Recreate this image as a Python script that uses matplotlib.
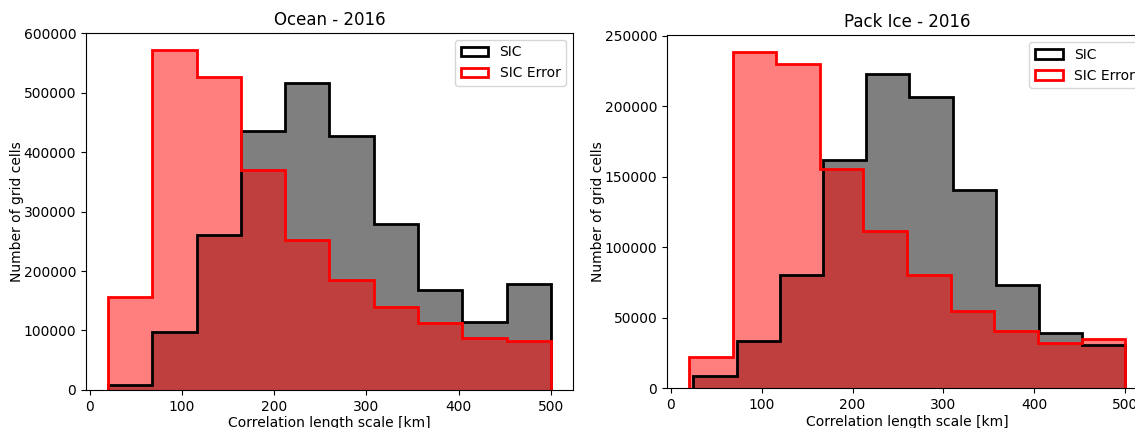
import matplotlib
matplotlib.use("Agg")
import matplotlib.pyplot as plt
import numpy as np

# bin edges [km]
ocean_edges = np.linspace(20, 500, 11)
ocean_sic_edges = np.linspace(20, 500, 11)
pack_edges = np.linspace(20, 500, 11)
pack_sic_edges = np.linspace(25, 500, 11)

# counts per bin
ocean_sic = [8000, 97000, 260000, 435000, 517000, 427000, 279000, 168000, 115000, 178000]
ocean_err = [157000, 572000, 526000, 370000, 252000, 185000, 140000, 112000, 87000, 83000]
pack_sic = [9000, 33700, 80500, 161700, 222700, 207000, 140500, 73400, 39500, 30600]
pack_err = [22400, 238700, 230000, 155800, 111300, 80500, 55000, 40300, 32000, 35000]


def draw_hist(ax, sic_edges, sic, err_edges, err, title):
    sic_mid = 0.5 * (sic_edges[1:] + sic_edges[:-1])
    err_mid = 0.5 * (err_edges[1:] + err_edges[:-1])
    ax.hist(sic_mid, bins=sic_edges, weights=sic, histtype='stepfilled',
            facecolor=(0, 0, 0, 0.5), edgecolor='none')
    ax.hist(sic_mid, bins=sic_edges, weights=sic, histtype='step',
            color='k', linewidth=2, label='SIC')
    ax.hist(err_mid, bins=err_edges, weights=err, histtype='stepfilled',
            facecolor=(1, 0, 0, 0.5), edgecolor='none')
    ax.hist(err_mid, bins=err_edges, weights=err, histtype='step',
            color='r', linewidth=2, label='SIC Error')
    ax.set_title(title)
    ax.set_xlabel('Correlation length scale [km]', labelpad=2)
    ax.set_ylabel('Number of grid cells', labelpad=0)
    ax.legend(loc='upper right')


fig = plt.figure(figsize=(11.35, 4.28), dpi=100)
ax1 = fig.add_axes([0.0758, 0.089, 0.429, 0.834])
ax2 = fig.add_axes([0.5877, 0.093, 0.423, 0.825])

draw_hist(ax1, ocean_sic_edges, ocean_sic, ocean_edges, ocean_err, 'Ocean - 2016')
draw_hist(ax2, pack_sic_edges, pack_sic, pack_edges, pack_err, 'Pack Ice - 2016')

fig.savefig('out.png', dpi=100)
